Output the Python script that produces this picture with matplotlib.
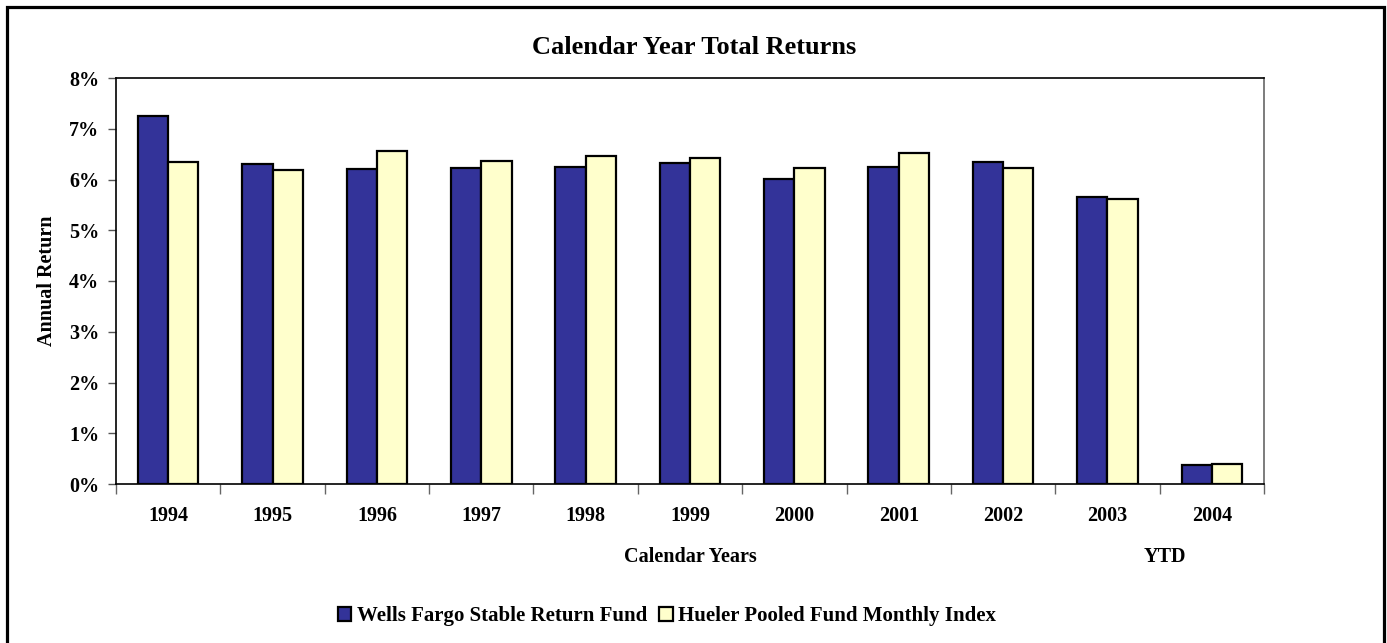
import matplotlib
matplotlib.use("Agg")
import matplotlib.pyplot as plt
import matplotlib.patches as mpatches
import numpy as np

years = ["1994", "1995", "1996", "1997", "1998", "1999", "2000", "2001", "2002", "2003", "2004"]
wells_fargo = [7.26, 6.30, 6.21, 6.23, 6.25, 6.32, 6.01, 6.24, 6.34, 5.66, 0.38]
hueler = [6.34, 6.19, 6.56, 6.36, 6.46, 6.42, 6.23, 6.52, 6.23, 5.61, 0.39]
series_names = ["Wells Fargo Stable Return Fund", "Hueler Pooled Fund Monthly Index"]
yticks = [0, 1, 2, 3, 4, 5, 6, 7, 8]

plt.rcParams['font.family'] = ['Liberation Serif', 'DejaVu Serif']
plt.rcParams['font.weight'] = 'bold'

W, H = 1387, 643
fig = plt.figure(figsize=(W / 100, H / 100), dpi=100)
ax = fig.add_axes([116 / W, 1 - 484 / H, (1264 - 116) / W, (484 - 78) / H])

x = np.arange(len(years))
bw = 0.29
ax.bar(x - bw / 2, wells_fargo, bw, color="#333399", edgecolor="black", linewidth=1.6, label=series_names[0], zorder=3)
ax.bar(x + bw / 2, hueler, bw, color="#FFFFCC", edgecolor="black", linewidth=1.6, label=series_names[1], zorder=3)

ax.set_xlim(-0.5, len(years) - 0.5)
ax.set_ylim(0, 8)
ax.set_yticks(yticks)
ax.set_yticklabels([f"{v}%" for v in yticks], fontsize=14.5, fontweight="bold")
ax.tick_params(axis="y", direction="out", length=6, width=1, color="#555555", pad=6)

ax.set_xticks(np.arange(-0.5, len(years), 1.0))
ax.set_xticklabels([])
ax.tick_params(axis="x", which="major", direction="out", length=7, width=1, color="#666666")
ax.set_xticks(x, minor=True)
ax.set_xticklabels(years, minor=True, fontsize=14.5, fontweight="bold")
ax.tick_params(axis="x", which="minor", length=0, pad=16)

for side in ["left", "bottom", "top"]:
    ax.spines[side].set_color("black")
    ax.spines[side].set_linewidth(1.2)
ax.spines["right"].set_color("#666666")
ax.spines["right"].set_linewidth(1.2)

fig.text(47 / W, 1 - 281 / H, "Annual Return", rotation=90, ha="center", va="center",
         fontsize=14.5, fontweight="bold")
fig.text(694 / W, 1 - 48 / H, "Calendar Year Total Returns", ha="center", va="center",
         fontsize=19, fontweight="bold")
fig.text(690 / W, 1 - 557 / H, "Calendar Years", ha="center", va="center",
         fontsize=14.5, fontweight="bold")
fig.text(1165 / W, 1 - 557 / H, "YTD", ha="center", va="center",
         fontsize=14.5, fontweight="bold")

handles = [mpatches.Patch(facecolor="#333399", edgecolor="black", linewidth=1.6),
           mpatches.Patch(facecolor="#FFFFCC", edgecolor="black", linewidth=1.6)]
fig.legend(handles, series_names, loc="center", bbox_to_anchor=(667 / W, 1 - 616 / H),
           ncol=2, frameon=False, prop={"size": 15, "weight": "bold"},
           handlelength=0.65, handleheight=0.65, handletextpad=0.25, columnspacing=0.6,
           borderpad=0)

frame = mpatches.Rectangle((7 / W, -0.05), (1384 - 7) / W, (1 - 7 / H) + 0.05,
                           transform=fig.transFigure, fill=False, edgecolor="black",
                           linewidth=2.3, clip_on=False)
fig.patches.append(frame)

fig.savefig("out.png", dpi=100)
